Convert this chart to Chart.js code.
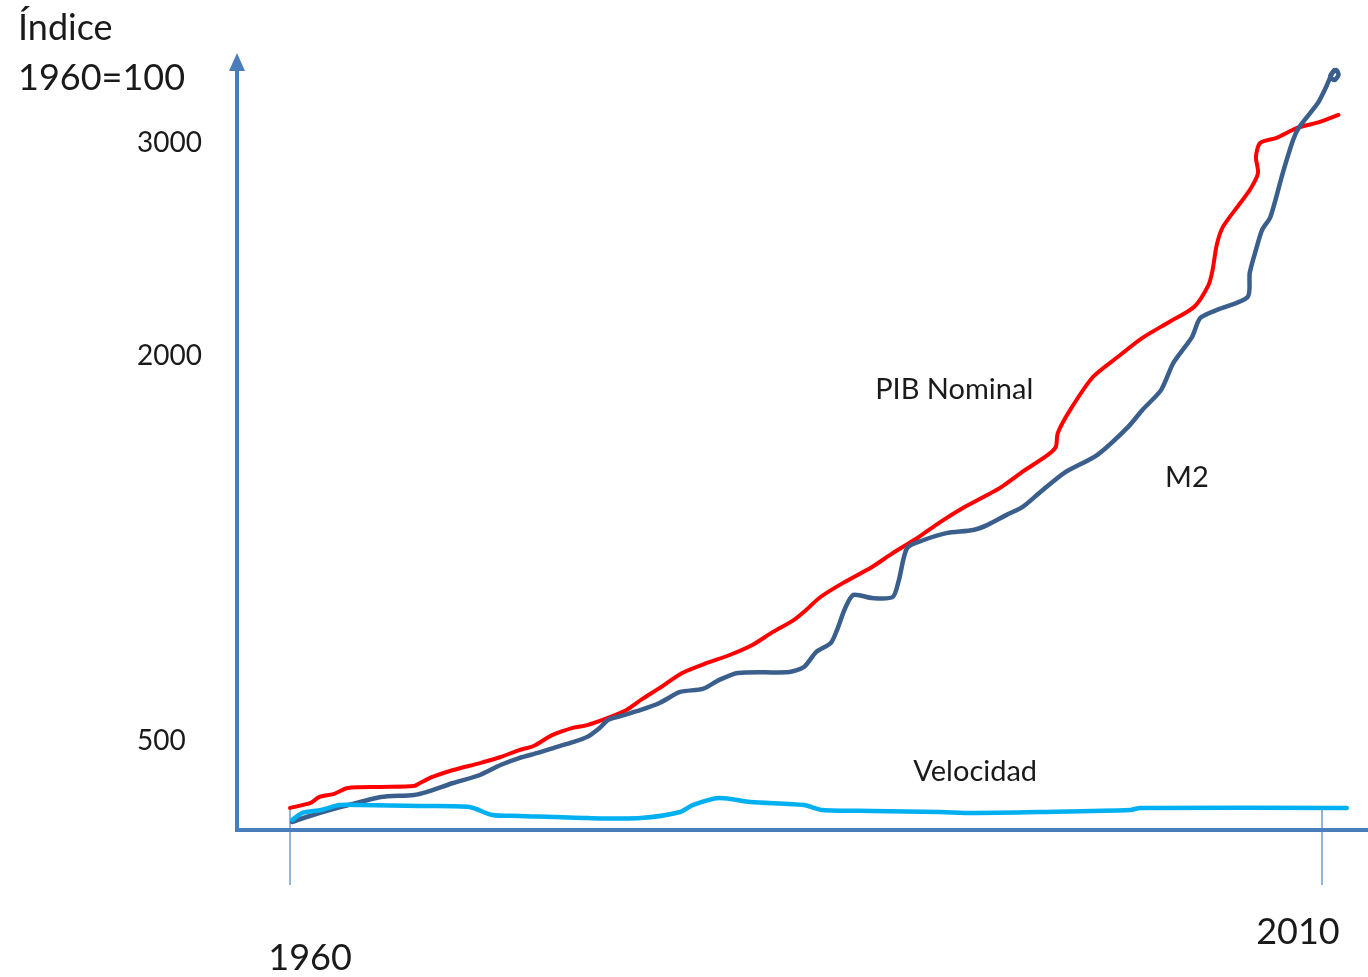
<!DOCTYPE html>
<html lang="es">
<head>
<meta charset="utf-8">
<title>Índice 1960=100</title>
<script src="https://cdn.jsdelivr.net/npm/chart.js@4"></script>
<style>
  html, body { margin: 0; padding: 0; background: #fff; }
  #wrap { width: 1368px; height: 977px; position: relative; }
</style>
</head>
<body>
<div id="wrap"><canvas id="indexChart"></canvas></div>
<script>
// --- data ---
const pibYears = [1960.0, 1961.0, 1961.4, 1962.1, 1962.8, 1964.4, 1966.0, 1966.3, 1966.9, 1967.9,
  1969.2, 1970.2, 1971.1, 1971.8, 1972.7, 1973.7, 1974.4, 1975.4, 1976.3, 1977.0,
  1977.9, 1979.0, 1980.2, 1981.3, 1982.4, 1983.4, 1984.4, 1985.0, 1985.7, 1986.8,
  1988.2, 1989.2, 1990.4, 1991.5, 1992.6, 1993.6, 1994.4, 1995.4, 1996.7, 1997.1,
  1997.2, 1997.8, 1998.9, 2000.1, 2001.3, 2002.6, 2003.8, 2004.5, 2004.7, 2004.9,
  2005.2, 2005.9, 2006.5, 2006.9, 2006.8, 2007.0, 2007.8, 2008.8, 2009.9, 2010.8];
const pibValues = [124, 152, 185, 202, 236, 242, 247, 264, 298, 337,
  376, 410, 449, 472, 523, 551, 562, 590, 621, 660,
  706, 765, 804, 835, 874, 925, 971, 1010, 1061, 1116,
  1178, 1232, 1291, 1353, 1408, 1451, 1486, 1544, 1614, 1645,
  1700, 1790, 1918, 1996, 2085, 2160, 2230, 2333, 2404, 2521,
  2606, 2700, 2779, 2859, 2934, 3000, 3024, 3071, 3099, 3132];

const m2Years = [1960.1, 1960.8, 1962.3, 1963.4, 1964.4, 1966.0, 1966.6, 1967.9, 1969.2, 1970.2,
  1971.1, 1972.0, 1972.9, 1973.7, 1974.4, 1975.0, 1975.4, 1976.0, 1977.0, 1977.9,
  1978.9, 1980.0, 1980.8, 1981.7, 1984.2, 1984.9, 1985.5, 1986.2, 1986.5, 1986.9,
  1987.3, 1988.2, 1989.2, 1989.5, 1989.9, 1990.7, 1991.8, 1993.1, 1993.8, 1994.7,
  1995.5, 1996.3, 1997.5, 1999.1, 2000.6, 2001.3, 2002.2, 2002.8, 2003.7, 2004.1,
  2004.9, 2006.4, 2006.5, 2006.8, 2007.1, 2007.5, 2008.1, 2008.6, 2008.9, 2009.8,
  2010.2, 2010.5, 2010.7, 2010.8, 2010.6, 2010.4, 2010.6];
const m2Values = [45, 73, 124, 157, 185, 197, 213, 264, 309, 365,
  404, 433, 466, 494, 516, 551, 582, 597, 621, 648,
  691, 703, 738, 765, 769, 788, 847, 882, 932, 1018,
  1069, 1057, 1061, 1127, 1252, 1283, 1310, 1322, 1342, 1380,
  1412, 1466, 1544, 1614, 1723, 1790, 1867, 1973, 2089, 2178,
  2216, 2277, 2390, 2498, 2592, 2653, 2859, 3014, 3075, 3188,
  3264, 3329, 3343, 3320, 3296, 3315, 3343];

const velYears = [1960.1, 1960.6, 1961.5, 1962.4, 1963.4, 1966.3, 1968.7, 1969.8, 1971.1, 1974.4,
  1977.0, 1978.9, 1979.5, 1980.8, 1982.3, 1984.9, 1985.8, 1988.2, 1991.5, 1993.1,
  1996.3, 2000.7, 2001.2, 2011.2];
const velValues = [56, 96, 112, 140, 140, 135, 129, 84, 79, 67,
  67, 101, 140, 180, 157, 140, 112, 107, 101, 96,
  101, 112, 124, 124];

const yTicks = [500, 2000, 3000];
const xTicks = [1960, 2010];

// the drawing's vertical axis is not evenly spaced, so map it piece by piece
const Y_KNOTS = [0, 500, 2000, 3000, 3400];
const Y_STOPS = [0, 0.1153, 0.614, 0.8899, 1];

function toDecimal(v) {
  for (let i = 1; i < Y_KNOTS.length; i++) {
    if (v <= Y_KNOTS[i] || i === Y_KNOTS.length - 1) {
      const t = (v - Y_KNOTS[i - 1]) / (Y_KNOTS[i] - Y_KNOTS[i - 1]);
      return Y_STOPS[i - 1] + t * (Y_STOPS[i] - Y_STOPS[i - 1]);
    }
  }
  return 0;
}
function fromDecimal(d) {
  for (let i = 1; i < Y_STOPS.length; i++) {
    if (d <= Y_STOPS[i] || i === Y_STOPS.length - 1) {
      const t = (d - Y_STOPS[i - 1]) / (Y_STOPS[i] - Y_STOPS[i - 1]);
      return Y_KNOTS[i - 1] + t * (Y_KNOTS[i] - Y_KNOTS[i - 1]);
    }
  }
  return 0;
}

class IndexScale extends Chart.LinearScale {
  getPixelForValue(value) {
    if (value === null || value === undefined) return NaN;
    return this.getPixelForDecimal(toDecimal(value));
  }
  getValueForPixel(pixel) {
    return fromDecimal(this.getDecimalForPixel(pixel));
  }
}
IndexScale.id = 'indexScale';
IndexScale.defaults = {};
Chart.register(IndexScale);

function pairs(xs, ys) {
  return xs.map((x, i) => ({ x: x, y: ys[i] }));
}

const AXIS_COLOR = '#4a7ebb';
const TICK_COLOR = '#95b3d7';
const TEXT_COLOR = '#1a1a1a';
const FONT = 'Lato, "Open Sans", sans-serif';

const textLabels = [
  { text: 'PIB Nominal', year: 1988.35, value: 1867 },
  { text: 'M2', year: 2002.4, value: 1525 },
  { text: 'Velocidad', year: 1990.2, value: 326 }
];

const sketchAxes = {
  id: 'sketchAxes',
  beforeDatasetsDraw(chart) {
    const { ctx, chartArea, scales } = chart;
    const x0 = chartArea.left;
    const yb = chartArea.bottom;
    ctx.save();

    // year ticks hanging below the baseline
    ctx.strokeStyle = TICK_COLOR;
    ctx.lineWidth = 2;
    xTicks.forEach(function (yr) {
      const px = scales.x.getPixelForValue(yr);
      ctx.beginPath();
      ctx.moveTo(px, yb - 24);
      ctx.lineTo(px, yb + 55);
      ctx.stroke();
    });

    // axes
    ctx.strokeStyle = AXIS_COLOR;
    ctx.lineWidth = 4;
    ctx.beginPath();
    ctx.moveTo(x0, yb + 2);
    ctx.lineTo(x0, chartArea.top + 12);
    ctx.moveTo(x0 - 2, yb);
    ctx.lineTo(chartArea.right, yb);
    ctx.stroke();

    // arrow head
    ctx.fillStyle = AXIS_COLOR;
    ctx.beginPath();
    ctx.moveTo(x0, chartArea.top - 5);
    ctx.lineTo(x0 + 8, chartArea.top + 13);
    ctx.lineTo(x0 - 8, chartArea.top + 13);
    ctx.closePath();
    ctx.fill();
    ctx.restore();
  },
  afterDatasetsDraw(chart) {
    const { ctx, chartArea, scales } = chart;
    ctx.save();
    ctx.fillStyle = TEXT_COLOR;
    ctx.textBaseline = 'middle';

    // title
    ctx.textAlign = 'left';
    ctx.font = '36px ' + FONT;
    ctx.fillText('Índice', 18, 28);
    ctx.fillText('1960=100', 18, 78);

    // y tick labels
    ctx.font = '28px ' + FONT;
    yTicks.forEach(function (v) {
      ctx.fillText(String(v), chartArea.left - 100, scales.y.getPixelForValue(v));
    });

    // x tick labels
    ctx.font = '36px ' + FONT;
    ctx.textAlign = 'center';
    ctx.fillText(String(xTicks[0]), scales.x.getPixelForValue(xTicks[0]) + 20, chartArea.bottom + 128);
    ctx.fillText(String(xTicks[1]), scales.x.getPixelForValue(xTicks[1]) - 24, chartArea.bottom + 102);

    // series names
    ctx.font = '29px ' + FONT;
    ctx.textAlign = 'left';
    textLabels.forEach(function (l) {
      ctx.fillText(l.text, scales.x.getPixelForValue(l.year), scales.y.getPixelForValue(l.value));
    });
    ctx.restore();
  }
};

const ctx = document.getElementById('indexChart');

const config = {
  type: 'line',
  data: {
    datasets: [
      {
        label: 'Velocidad',
        data: pairs(velYears, velValues),
        borderColor: '#00b0f0',
        borderWidth: 4.5
      },
      {
        label: 'M2',
        data: pairs(m2Years, m2Values),
        borderColor: '#3b5f8c',
        borderWidth: 4.5
      },
      {
        label: 'PIB Nominal',
        data: pairs(pibYears, pibValues),
        borderColor: '#ff0000',
        borderWidth: 4
      }
    ]
  },
  options: {
    responsive: true,
    maintainAspectRatio: false,
    animation: false,
    layout: {
      padding: { left: 237, top: 58, right: 0, bottom: 147 }
    },
    elements: {
      point: { radius: 0, hoverRadius: 0 },
      line: { tension: 0.25, borderCapStyle: 'round', borderJoinStyle: 'round', fill: false }
    },
    datasets: {
      line: { clip: false }
    },
    plugins: {
      legend: { display: false },
      tooltip: { enabled: false }
    },
    scales: {
      x: {
        type: 'linear',
        display: false,
        min: 1957.43,
        max: 2012.23
      },
      y: {
        type: 'indexScale',
        display: false,
        min: 0,
        max: 3400
      }
    }
  },
  plugins: [sketchAxes]
};

const chart = new Chart(ctx, config);
</script>
</body>
</html>
